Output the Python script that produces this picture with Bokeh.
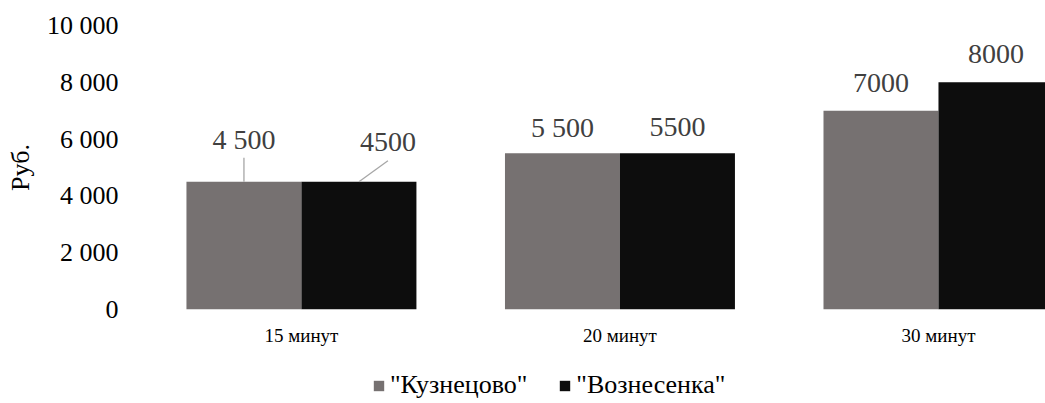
from bokeh.plotting import figure
from bokeh.layouts import column
from bokeh.models import ColumnDataSource, Range1d, FixedTicker, Legend, LegendItem
from bokeh.embed import file_html
from bokeh.resources import INLINE

# Price per session by duration for two locations
categories = ["15 минут", "20 минут", "30 минут"]
kuznetsovo = [4500, 5500, 7000]
voznesenka = [4500, 5500, 8000]
kuznetsovo_labels = ["4 500", "5 500", "7000"]
voznesenka_labels = ["4500", "5500", "8000"]
series_names = ['"Кузнецово"', '"Вознесенка"']
y_ticks = [0, 2000, 4000, 6000, 8000, 10000]
y_tick_labels = ["0", "2 000", "4 000", "6 000", "8 000", "10 000"]

FONT = "Liberation Serif"
GRAY = "#767171"
BLACK = "#0d0d0d"

W = 1045
CHART_H, LEGEND_H = 360, 43
LEFT, TOP, BOTTOM = 142, 25, 51
X_START, X_END = -0.499, 2.336
Y_MAX = 10000
BAR_W = 0.361

frame_w = W - LEFT
frame_h = CHART_H - TOP - BOTTOM
px_x = (X_END - X_START) / frame_w   # data units per pixel, x
px_y = Y_MAX / frame_h               # data units per pixel, y

p = figure(width=W, height=CHART_H, x_range=Range1d(X_START, X_END), y_range=Range1d(0, Y_MAX),
           output_backend="svg", toolbar_location=None,
           min_border_left=LEFT, min_border_right=0, min_border_top=TOP, min_border_bottom=BOTTOM)
p.outline_line_color = None
p.grid.visible = False

xs = list(range(len(categories)))
gx = [x - BAR_W / 2 for x in xs]
bx = [x + BAR_W / 2 for x in xs]

src_k = ColumnDataSource(dict(x=gx, top=kuznetsovo, label=kuznetsovo_labels,
                              xo=[0, 0, 0], yo=[-42, -26, -28]))
src_v = ColumnDataSource(dict(x=bx, top=voznesenka, label=voznesenka_labels,
                              xo=[29, 0, 0], yo=[-40, -26, -28]))

p.vbar(x="x", top="top", width=BAR_W, bottom=0, source=src_k, fill_color=GRAY, line_color=None)
p.vbar(x="x", top="top", width=BAR_W, bottom=0, source=src_v, fill_color=BLACK, line_color=None)

# leader lines for the first pair of labels
p.segment(x0=[gx[0], bx[0]], y0=[kuznetsovo[0], voznesenka[0]],
          x1=[gx[0], bx[0] + 29 * px_x], y1=[kuznetsovo[0] + 24 * px_y, voznesenka[0] + 21 * px_y],
          line_color="#a6a6a6", line_width=1.3)

for src in (src_k, src_v):
    p.text(x="x", y="top", text="label", x_offset="xo", y_offset="yo", source=src,
           text_align="center", text_baseline="middle", text_color="#404040",
           text_font_size="28px", text_font={"value": FONT})

# axes
p.yaxis.ticker = FixedTicker(ticks=y_ticks)
p.yaxis.major_label_overrides = {t: s for t, s in zip(y_ticks, y_tick_labels)}
p.yaxis.axis_line_color = None
p.yaxis.major_tick_line_color = None
p.yaxis.minor_tick_line_color = None
p.yaxis.major_tick_out = 0
p.yaxis.major_label_standoff = 24
p.yaxis.major_label_text_font = FONT
p.yaxis.major_label_text_font_size = "26px"
p.yaxis.major_label_text_color = "#000000"
p.yaxis.axis_label = "Руб."
p.yaxis.axis_label_text_font = FONT
p.yaxis.axis_label_text_font_size = "26px"
p.yaxis.axis_label_text_font_style = "normal"
p.yaxis.axis_label_text_color = "#000000"
p.yaxis.axis_label_standoff = 9

p.xaxis.ticker = FixedTicker(ticks=xs)
p.xaxis.major_label_overrides = {x: c for x, c in zip(xs, categories)}
p.xaxis.axis_line_color = None
p.xaxis.major_tick_line_color = None
p.xaxis.minor_tick_line_color = None
p.xaxis.major_tick_out = 0
p.xaxis.major_tick_in = 0
p.xaxis.major_label_standoff = 15
p.xaxis.major_label_text_font = FONT
p.xaxis.major_label_text_font_size = "19px"
p.xaxis.major_label_text_font_style = "normal"
p.xaxis.major_label_text_color = "#000000"

# legend strip under the chart; its swatch bars sit outside the visible range
lg = figure(width=W, height=LEGEND_H, x_range=Range1d(0, 1), y_range=Range1d(0, 1),
            output_backend="svg", toolbar_location=None,
            min_border_left=0, min_border_right=0, min_border_top=0, min_border_bottom=0)
lg.axis.visible = False
lg.grid.visible = False
lg.outline_line_color = None
swatch = ColumnDataSource(dict(x=[-10], top=[-10]))
lk = lg.vbar(x="x", top="top", width=0.1, source=swatch, fill_color=GRAY, line_color=None)
lv = lg.vbar(x="x", top="top", width=0.1, source=swatch, fill_color=BLACK, line_color=None)

legend = Legend(items=[LegendItem(label=series_names[0], renderers=[lk]),
                       LegendItem(label=series_names[1], renderers=[lv])],
                orientation="horizontal", location=(230, 3))
legend.glyph_width = 13
legend.glyph_height = 13
legend.label_standoff = 5
legend.spacing = 31
legend.padding = 0
legend.margin = 0
legend.border_line_color = None
legend.background_fill_alpha = 0
legend.label_text_font = FONT
legend.label_text_font_size = "26px"
legend.label_text_font_style = "normal"
legend.label_text_color = "#000000"
lg.add_layout(legend, "center")

layout = column(p, lg, spacing=0)
open("out.html", "w").write(file_html(layout, INLINE))
